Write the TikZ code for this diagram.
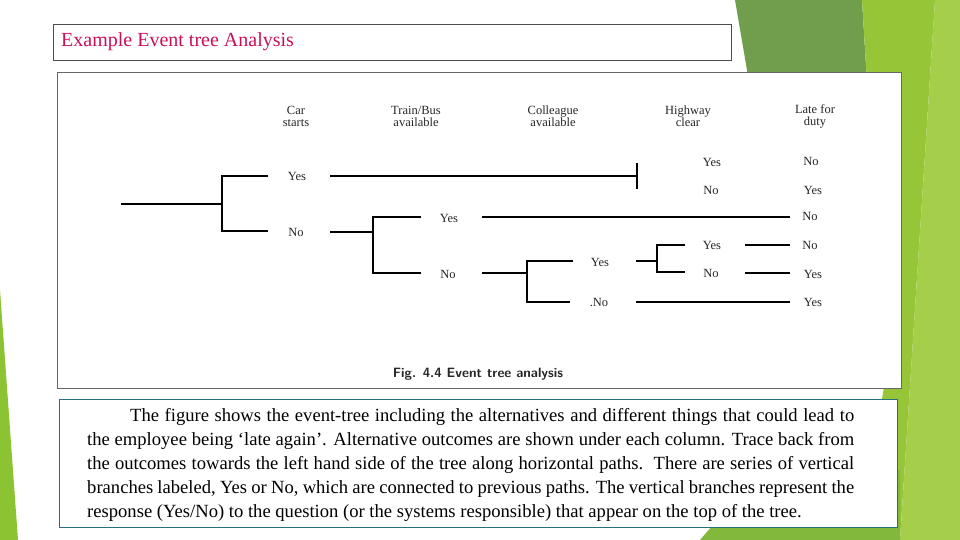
\documentclass[tikz,border=0pt]{standalone}
\usepackage{fontspec}
\setmainfont{Liberation Serif}
\begin{document}
\begin{tikzpicture}[x=1pt,y=-1pt,
  lbl/.style={font=\fontsize{12.5}{13}\selectfont, inner sep=1pt, text=black!85},
  hdr/.style={font=\fontsize{12.5}{12}\selectfont, align=center, inner sep=1pt, text=black!85},
  br/.style={line width=1.1pt}]
\useasboundingbox (0,0) rectangle (960,540);
% background decorations
\fill[color={rgb,255:red,112;green,158;blue,76}] (735,0) -- (862,0) -- (885,380) -- (800,380) -- cycle;
\fill[color={rgb,255:red,150;green,198;blue,56}] (862,0) -- (935,0) -- (900,540) -- (860,540) -- (885,380) -- cycle;
\fill[color={rgb,255:red,165;green,207;blue,74}] (935,0) -- (960,0) -- (960,540) -- (900,540) -- cycle;
\fill[color={rgb,255:red,130;green,185;blue,60}] (700,540) -- (760,470) -- (900,470) -- (900,540) -- cycle;
\fill[color={rgb,255:red,140;green,195;blue,50}] (0,290) -- (18,540) -- (0,540) -- cycle;
% title box
\node[draw=black!70, fill=white, minimum width=678, minimum height=36, anchor=north west, inner sep=0] (title) at (53,24) {};
\node[anchor=west, text={rgb,255:red,200;green,16;blue,90}, font=\fontsize{20}{22}\selectfont, inner sep=0] (tt) at (61,42) {Example Event tree Analysis};
% figure box
\node[draw=black!60, fill=white, minimum width=844, minimum height=316, anchor=north west, inner sep=0] (fig) at (57,72) {};
% headers
\node[hdr] (h1) at (296,116) {Car\\starts};
\node[hdr] (h2) at (416,116) {Train/Bus\\available};
\node[hdr] (h3) at (553,116) {Colleague\\available};
\node[hdr] (h4) at (688,116) {Highway\\clear};
\node[hdr] (h5) at (815,116) {Late for\\duty};
% labels
\node[lbl] (y1) at (297,176) {Yes};
\node[lbl] (n1) at (296,232) {No};
\node[lbl] (y2) at (449,218) {Yes};
\node[lbl] (n2) at (448,274) {No};
\node[lbl] (y3) at (600,262) {Yes};
\node[lbl] (n3) at (599,302) {.No};
\node[lbl] (y4a) at (712,162) {Yes};
\node[lbl] (n4a) at (711,190) {No};
\node[lbl] (y4) at (712,245) {Yes};
\node[lbl] (n4) at (711,273) {No};
\node[lbl] (o1) at (811,161) {No};
\node[lbl] (o2) at (813,190) {Yes};
\node[lbl] (o3) at (810,216) {No};
\node[lbl] (o4) at (810,245) {No};
\node[lbl] (o5) at (813,274) {Yes};
\node[lbl] (o6) at (813,302) {Yes};
% tree
\coordinate (r) at (121,204);
\draw[br] (r) -- (222,204);
\draw[br] (268,176) -- (222,176) -- (222,231) -- (268,231);
\draw[br] (330,176) -- (637,176);
\draw[br] (637,163) -- (637,189);
\draw[br] (330,232) -- (373,232);
\draw[br] (421,217) -- (373,217) -- (373,273) -- (421,273);
\draw[br] (482,217) -- (790,217);
\draw[br] (482,273) -- (527,273);
\draw[br] (573,261) -- (527,261) -- (527,302) -- (570,302);
\draw[br] (636,302) -- (790,302);
\draw[br] (636,261) -- (657,261);
\draw[br] (685,245) -- (657,245) -- (657,272) -- (685,272);
\draw[br] (745,245) -- (790,245);
\draw[br] (745,273) -- (790,273);
\node[font=\sffamily\bfseries\fontsize{13.5}{14}\selectfont, text=black!85] (cap) at (478,374) {Fig. 4.4 Event tree analysis};
% text box
\node[draw={rgb,255:red,40;green,110;blue,130}, fill=white, minimum width=838, minimum height=128, anchor=north west, inner sep=0] (tb) at (59,399) {};
\node[anchor=north west, text width=767, align=justify, font=\fontsize{18.6}{24}\selectfont, inner sep=0] (body) at (87,408)
{\hyphenpenalty=10000 \hspace*{43pt}The figure shows the event-tree including the alternatives and different things that could lead to\linebreak the employee being `late again'. Alternative outcomes are shown under each column. Trace back from\linebreak the outcomes towards the left hand side of the tree along horizontal paths.\ \ There are series of vertical\linebreak branches labeled, Yes or No, which are connected to previous paths. The vertical branches represent the\linebreak response (Yes/No) to the question (or the systems responsible) that appear on the top of the tree.};
\end{tikzpicture}
\end{document}
